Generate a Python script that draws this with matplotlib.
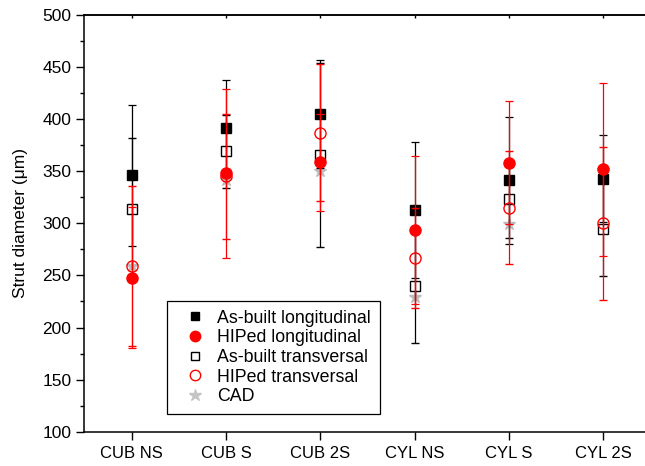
import matplotlib
matplotlib.use("Agg")
import matplotlib.pyplot as plt
from matplotlib.lines import Line2D
from matplotlib.ticker import MultipleLocator

plt.rcParams['font.family'] = ['Liberation Sans', 'DejaVu Sans']

categories = ["CUB NS", "CUB S", "CUB 2S", "CYL NS", "CYL S", "CYL 2S"]

asbuilt_long = [346, 391.5, 405, 313, 341.5, 343]
asbuilt_long_err = [68, 46, 51.5, 65.5, 61, 42]

hiped_long = [248, 348, 358.5, 294, 358, 352]
hiped_long_err = [68, 81, 46.5, 71, 59, 83]

asbuilt_trans = [313.5, 369, 365.5, 240, 323, 295]
asbuilt_trans_err = [68, 35, 88, 55, 37, 46]

hiped_trans = [259, 345, 387, 266.5, 315, 300]
hiped_trans_err = [77, 60, 66, 48, 54, 73.5]

cad = [259, 341.5, 350, 229, 299, 351]

x = list(range(1, len(categories) + 1))

fig = plt.figure(figsize=(6.45, 4.66), dpi=100)
ax = fig.add_axes([0.131, 0.0736, 0.8775, 0.8942])

ebkw = dict(ls='none', capsize=3.2, elinewidth=0.9, capthick=0.9)

ax.errorbar(x, asbuilt_trans, yerr=asbuilt_trans_err, fmt='s', color='black',
            mfc='none', mec='black', ms=6.5, mew=1.0, zorder=3, **ebkw)
ax.errorbar(x, asbuilt_long, yerr=asbuilt_long_err, fmt='s', color='black',
            mfc='black', mec='black', ms=6.5, zorder=3, **ebkw)
ax.errorbar(x, hiped_long, yerr=hiped_long_err, fmt='o', color='red',
            mfc='red', mec='red', ms=8, zorder=4, **ebkw)
ax.errorbar(x, hiped_trans, yerr=hiped_trans_err, fmt='o', color='red',
            mfc='none', mec='red', ms=8, mew=1.0, zorder=4, **ebkw)
ax.plot(x, cad, ls='none', marker='*', color='#bdbdbd', ms=9, zorder=2.5)

ax.set_xlim(0.5, 6.5)
ax.set_ylim(100, 500)
ax.set_xticks(x)
ax.set_xticklabels(categories, fontsize=12)
ax.yaxis.set_major_locator(MultipleLocator(50))
ax.yaxis.set_minor_locator(MultipleLocator(25))
ax.tick_params(axis='y', which='major', direction='out', length=6, width=1, labelsize=12.5)
ax.tick_params(axis='y', which='minor', direction='out', length=3, width=1)
ax.tick_params(axis='x', which='major', direction='out', length=5.5, width=1, pad=5)
for spine in ax.spines.values():
    spine.set_linewidth(1.1)

# small inward ticks along the top frame
top = ax.secondary_xaxis('top')
top.set_xticks(x)
top.set_xticklabels([])
top.tick_params(direction='in', length=2, width=1)
top.spines['top'].set_linewidth(1.1)

ax.set_ylabel("Strut diameter (\u03bcm)", fontsize=12.5, labelpad=10)

handles = [
    Line2D([], [], ls='none', marker='s', color='black', ms=6),
    Line2D([], [], ls='none', marker='o', color='red', ms=7.5),
    Line2D([], [], ls='none', marker='s', mfc='none', mec='black', ms=6),
    Line2D([], [], ls='none', marker='o', mfc='none', mec='red', ms=7.5),
    Line2D([], [], ls='none', marker='*', color='#c4c4c4', ms=9),
]
labels = ["As-built longitudinal", "HIPed longitudinal", "As-built transversal",
          "HIPed transversal", "CAD"]
leg = ax.legend(handles, labels, loc='lower left', bbox_to_anchor=(0.1454, 0.042),
                fontsize=12.8, frameon=True, fancybox=False, edgecolor='black',
                framealpha=1, borderpad=0.5, labelspacing=0.15, handletextpad=0.15,
                handlelength=2.2, borderaxespad=0)
leg.get_frame().set_linewidth(0.9)

fig.savefig("out.png", dpi=100)
